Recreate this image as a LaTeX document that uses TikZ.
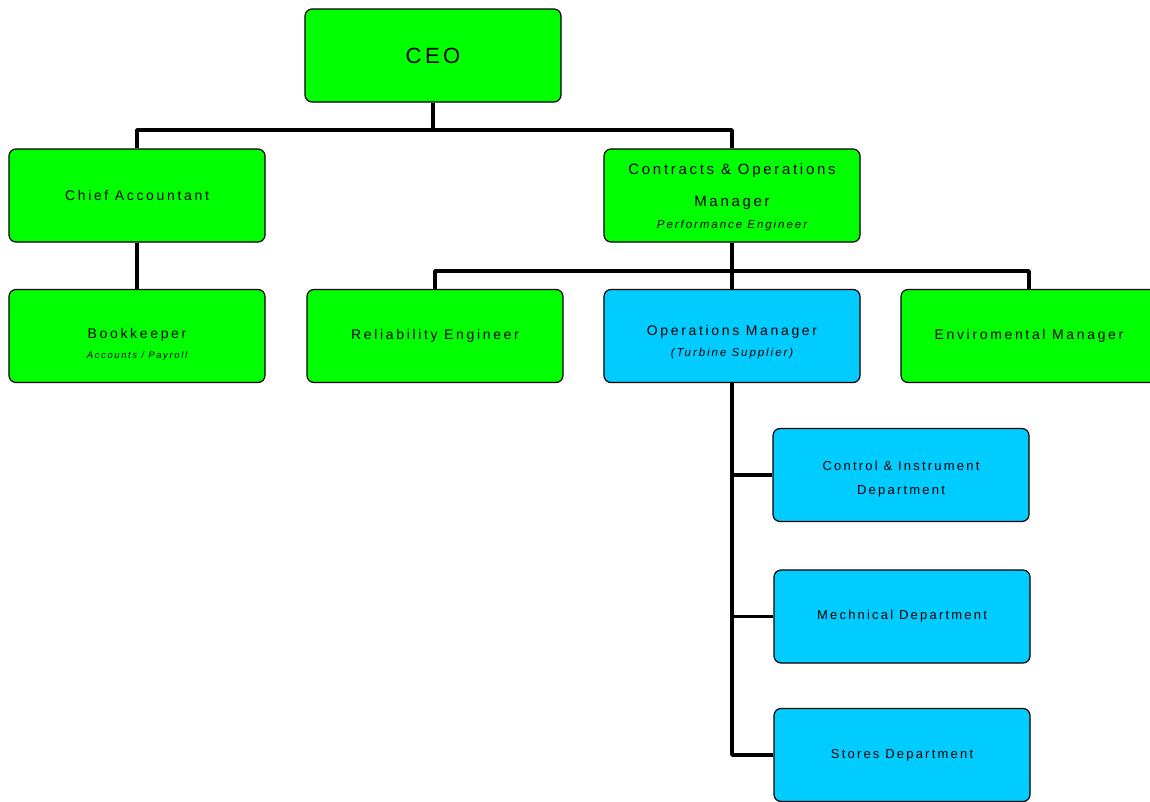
\documentclass[tikz,border=0pt]{standalone}
\usepackage{fontspec}
\setmainfont{Liberation Sans}
\usepackage{tikz}
\usetikzlibrary{positioning}

\definecolor{boxgreen}{RGB}{0,255,0}
\definecolor{boxblue}{RGB}{0,204,255}

\tikzset{
  post/.style={draw=black, line width=1.2, rounded corners=7, minimum width=256, minimum height=93, inner sep=0, align=center, text=black},
  greenpost/.style={post, fill=boxgreen},
  bluepost/.style={post, fill=boxblue},
  link/.style={line width=3.6, line join=round}
}
\newcommand{\ls}[1]{\addfontfeature{LetterSpace=#1}}
\newcommand{\subline}[1]{\fontsize{11.5}{14}\selectfont\itshape\ls{17}#1}

\begin{document}
\begin{tikzpicture}[x=1pt,y=1pt,yscale=-1,xscale=1]
%set diagram size to 1150 x 801
\useasboundingbox (0,0) rectangle (1150,801);

%CEO
\node [greenpost, font=\fontsize{22}{26}\selectfont] (ceo) at (433,55.5) {\ls{16}CEO};

%Second level
\node [greenpost, font=\fontsize{14}{17}\selectfont] (chief) at (137,195.5) {\ls{19}Chief Accountant};
\node [greenpost, font=\fontsize{15}{18}\selectfont] (contracts) at (732,195.5) {\rule{0pt}{14pt}\ls{18}Contracts \& Operations\\[14pt]\ls{18}Manager\\[4pt]\subline{Performance Engineer}};

%Third level
\node [greenpost, font=\fontsize{14}{17}\selectfont] (bookkeeper) at (137,336) {\rule{0pt}{26pt}\ls{19}Bookkeeper\\[3pt]{\fontsize{9.5}{12}\selectfont\itshape\ls{17}Accounts / Payroll}};
\node [greenpost, font=\fontsize{14}{17}\selectfont] (reliability) at (435,336) {\ls{19}Reliability Engineer};
\node [bluepost, font=\fontsize{14}{17}\selectfont] (opsmgr) at (732,336) {\rule{0pt}{22pt}\ls{19}Operations Manager\\[4pt]\subline{(Turbine Supplier)}};
\node [greenpost, font=\fontsize{14}{17}\selectfont] (enviro) at (1029,336) {\ls{19}Enviromental Manager};

%Departments
\node [bluepost, font=\fontsize{13}{16}\selectfont] (cidept) at (901,475) {\rule{0pt}{18pt}\ls{17}Control \& Instrument\\[8pt]\ls{17}Department};
\node [bluepost, font=\fontsize{13}{16}\selectfont] (mechdept) at (902,616.5) {\ls{17}Mechnical Department};
\node [bluepost, font=\fontsize{13}{16}\selectfont] (storesdept) at (902,755) {\ls{17}Stores Department};

%Bus coordinates
\coordinate (busceo) at (433,130);
\coordinate (buscontracts) at (732,271);

%Links: CEO
\draw [link] (ceo.south) -- (busceo);
\draw [link] (chief.north) |- (busceo) -| (contracts.north);

%Links: Chief Accountant
\draw [link] (chief.south) -- (bookkeeper.north);

%Links: Contracts & Operations
\draw [link] (contracts.south) -- (buscontracts);
\draw [link] (reliability.north) |- (buscontracts) -| (enviro.north);
\draw [link] (buscontracts) -- (opsmgr.north);

%Links: Operations Manager
\draw [link] (opsmgr.south) |- (storesdept.west);
\draw [link] (opsmgr.south |- cidept.west) -- (cidept.west);
\draw [link] (opsmgr.south |- mechdept.west) -- (mechdept.west);

\end{tikzpicture}
\end{document}
